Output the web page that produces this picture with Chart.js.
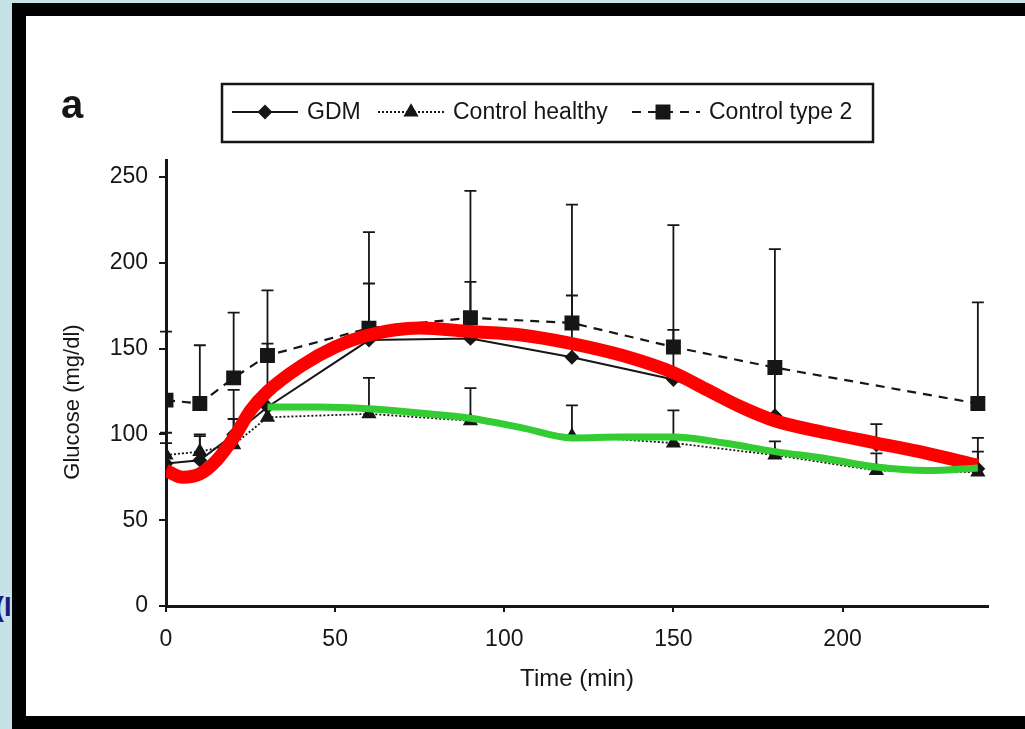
<!DOCTYPE html>
<html>
<head>
<meta charset="utf-8">
<script src="https://cdn.jsdelivr.net/npm/chart.js"></script>
<style>
  html, body { margin: 0; padding: 0; }
  body { width: 1025px; height: 729px; background: #c6e2e7; position: relative; overflow: hidden; }
  #cut { position: absolute; left: -5px; top: 592px; font: bold 27px "Liberation Sans", Arial, sans-serif; color: #1b1b7c; }
  #frame { position: absolute; left: 12px; top: 3px; width: 1013px; height: 726px; background: #000; }
  #sheet { position: absolute; left: 14px; top: 13px; width: 999px; height: 700px; background: #fff; }
  canvas { display: block; }
</style>
</head>
<body>
<span id="cut">(I</span>
<div id="frame"><div id="sheet"><canvas id="grafico" width="999" height="700"></canvas></div></div>
<script>
"use strict";

// tempi di prelievo (min) e medie / deviazioni per gruppo
const times = [0, 10, 20, 30, 60, 90, 120, 150, 180, 210, 240];
const gdmMean = [83, 85, 100, 116, 155, 156, 145, 132, 111, 94, 80];
const gdmSd = [18, 14, 26, 37, 33, 33, 36, 29, 25, 12, 10];
const healthyMean = [88, 90, 94, 110, 112, 108, 99, 95, 88, 79, 78];
const healthySd = [7, 10, 15, 7, 21, 19, 18, 19, 8, 10, 20];
const type2Mean = [120, 118, 133, 146, 162, 168, 165, 151, 139, null, 118];
const type2Sd = [40, 34, 38, 38, 56, 74, 69, 71, 69, null, 59];

// curve tracciate sopra il grafico
const redT = [0, 5, 10, 15, 20, 25, 30, 40, 50, 60, 75, 90, 105, 120, 135, 150, 160, 170, 180, 195, 210, 225, 240];
const redV = [79, 75, 77, 85, 98, 114, 125, 140, 151, 158, 162, 160, 158, 153, 146, 136, 126, 116, 108, 101, 95, 89, 82];
const greenT = [30, 45, 60, 75, 90, 105, 120, 135, 150, 165, 180, 195, 210, 225, 240];
const greenV = [116, 116, 115, 112.5, 109.5, 104, 98, 98.5, 98.5, 95, 90, 86, 81, 79, 80.5];

// assi
const xTicks = [0, 50, 100, 150, 200];
const yTicks = [0, 50, 100, 150, 200, 250];
const xMax = 243;
const yMax = 260;

const FONT = '"Liberation Sans", Arial, sans-serif';
const INK = "#161616";

function punti(xs, ys) {
    return xs.map((t, i) => ({ x: t, y: ys[i] }));
}

// barre di errore (solo verso l'alto) disegnate sotto le serie
const errorBars = {
    id: "errorBars",
    beforeDatasetsDraw(chart) {
        let ctx = chart.ctx;
        let sx = chart.scales.x, sy = chart.scales.y;
        for (const ds of chart.data.datasets) {
            if (!ds.errors) continue;
            ctx.save();
            ctx.strokeStyle = INK;
            ctx.lineWidth = 1.8;
            ds.data.forEach((p, i) => {
                if (p.y == null || ds.errors[i] == null) return;
                let px = sx.getPixelForValue(p.x);
                let y0 = sy.getPixelForValue(p.y);
                let y1 = sy.getPixelForValue(p.y + ds.errors[i]);
                ctx.beginPath();
                ctx.moveTo(px, y0);
                ctx.lineTo(px, y1);
                ctx.moveTo(px - 6, y1);
                ctx.lineTo(px + 6, y1);
                ctx.stroke();
            });
            ctx.restore();
        }
    }
};

// legenda incorniciata, lettera del pannello e titolo asse y
const cornice = {
    id: "cornice",
    afterDraw(chart) {
        let ctx = chart.ctx;
        ctx.save();
        // lettera "a"
        ctx.fillStyle = INK;
        ctx.font = "bold 40px " + FONT;
        ctx.textBaseline = "alphabetic";
        ctx.fillText("a", 35, 102);

        // titolo asse y
        ctx.save();
        ctx.translate(47, 386);
        ctx.rotate(-Math.PI / 2);
        ctx.font = "22px " + FONT;
        ctx.textAlign = "center";
        ctx.textBaseline = "middle";
        ctx.fillText("Glucose (mg/dl)", 0, 0);
        ctx.restore();

        // riquadro legenda
        ctx.strokeStyle = INK;
        ctx.lineWidth = 2.5;
        ctx.strokeRect(196, 68, 651, 58);

        let voci = [
            { line: [206, 272], mark: 239, text: 281 },
            { line: [352, 419], mark: 385, text: 427 },
            { line: [606, 674], mark: 637, text: 683 }
        ];
        let serie = chart.data.datasets.filter(d => !d.overlay);
        let cy = 96;
        serie.forEach((ds, i) => {
            let v = voci[i];
            ctx.save();
            ctx.strokeStyle = ds.borderColor;
            ctx.lineWidth = ds.borderWidth;
            ctx.setLineDash(ds.borderDash || []);
            ctx.beginPath();
            ctx.moveTo(v.line[0], cy);
            ctx.lineTo(v.line[1], cy);
            ctx.stroke();
            ctx.setLineDash([]);
            ctx.fillStyle = ds.pointBackgroundColor;
            ctx.strokeStyle = ds.pointBorderColor;
            Chart.helpers.drawPoint(ctx, {
                pointStyle: ds.pointStyle,
                radius: ds.pointRadius,
                rotation: 0,
                borderWidth: 1
            }, v.mark, cy);
            ctx.restore();
            ctx.fillStyle = INK;
            ctx.font = "23px " + FONT;
            ctx.textBaseline = "middle";
            ctx.fillText(ds.label, v.text, cy + 1);
        });
        ctx.restore();
    }
};

const axisCommon = {
    type: "linear",
    grid: { drawOnChartArea: false, drawTicks: true, tickLength: 7, color: INK, lineWidth: 2 },
    border: { display: true, color: INK, width: 3 }
};

const chart = new Chart(document.getElementById("grafico"), {
    type: "scatter",
    data: {
        datasets: [
            {
                label: "verde",
                overlay: true,
                data: punti(greenT, greenV),
                showLine: true,
                borderColor: "#33cc33",
                borderWidth: 7,
                pointRadius: 0,
                cubicInterpolationMode: "monotone",
                order: 0
            },
            {
                label: "rossa",
                overlay: true,
                data: punti(redT, redV),
                showLine: true,
                borderColor: "#ff0000",
                borderWidth: 13,
                pointRadius: 0,
                cubicInterpolationMode: "monotone",
                order: 1
            },
            {
                label: "GDM",
                data: punti(times, gdmMean),
                errors: gdmSd,
                showLine: true,
                borderColor: INK,
                borderWidth: 2,
                pointStyle: "rectRot",
                pointRadius: 6,
                pointBackgroundColor: INK,
                pointBorderColor: INK,
                order: 2
            },
            {
                label: "Control healthy",
                data: punti(times, healthyMean),
                errors: healthySd,
                showLine: true,
                borderColor: INK,
                borderWidth: 1.8,
                borderDash: [2, 2],
                pointStyle: "triangle",
                pointRadius: 7,
                pointBackgroundColor: INK,
                pointBorderColor: INK,
                order: 3
            },
            {
                label: "Control type 2",
                data: punti(times, type2Mean),
                errors: type2Sd,
                showLine: true,
                spanGaps: true,
                borderColor: INK,
                borderWidth: 2.2,
                borderDash: [9, 7],
                pointStyle: "rect",
                pointRadius: 9,
                pointBackgroundColor: INK,
                pointBorderColor: INK,
                order: 4
            }
        ]
    },
    options: {
        responsive: false,
        animation: false,
        layout: { padding: { left: 28, right: 37, top: 144, bottom: 18 } },
        plugins: {
            legend: { display: false },
            tooltip: { enabled: false }
        },
        scales: {
            x: Object.assign({}, axisCommon, {
                min: 0,
                max: xMax,
                afterBuildTicks: s => { s.ticks = xTicks.map(v => ({ value: v })); },
                afterFit: s => { s.height = 92; },
                ticks: { padding: 14, autoSkip: false, maxRotation: 0, color: INK, font: { family: FONT, size: 23 } },
                grid: Object.assign({}, axisCommon.grid, { tickLength: 6 }),
                title: {
                    display: true,
                    text: "Time (min)",
                    color: INK,
                    font: { family: FONT, size: 24 },
                    padding: { top: 0, bottom: 4 }
                }
            }),
            y: Object.assign({}, axisCommon, {
                min: 0,
                max: yMax,
                afterBuildTicks: s => { s.ticks = yTicks.map(v => ({ value: v })); },
                afterFit: s => { s.width = 112; },
                ticks: { padding: 11, autoSkip: false, color: INK, font: { family: FONT, size: 23 } }
            })
        }
    },
    plugins: [errorBars, cornice]
});
</script>
</body>
</html>
